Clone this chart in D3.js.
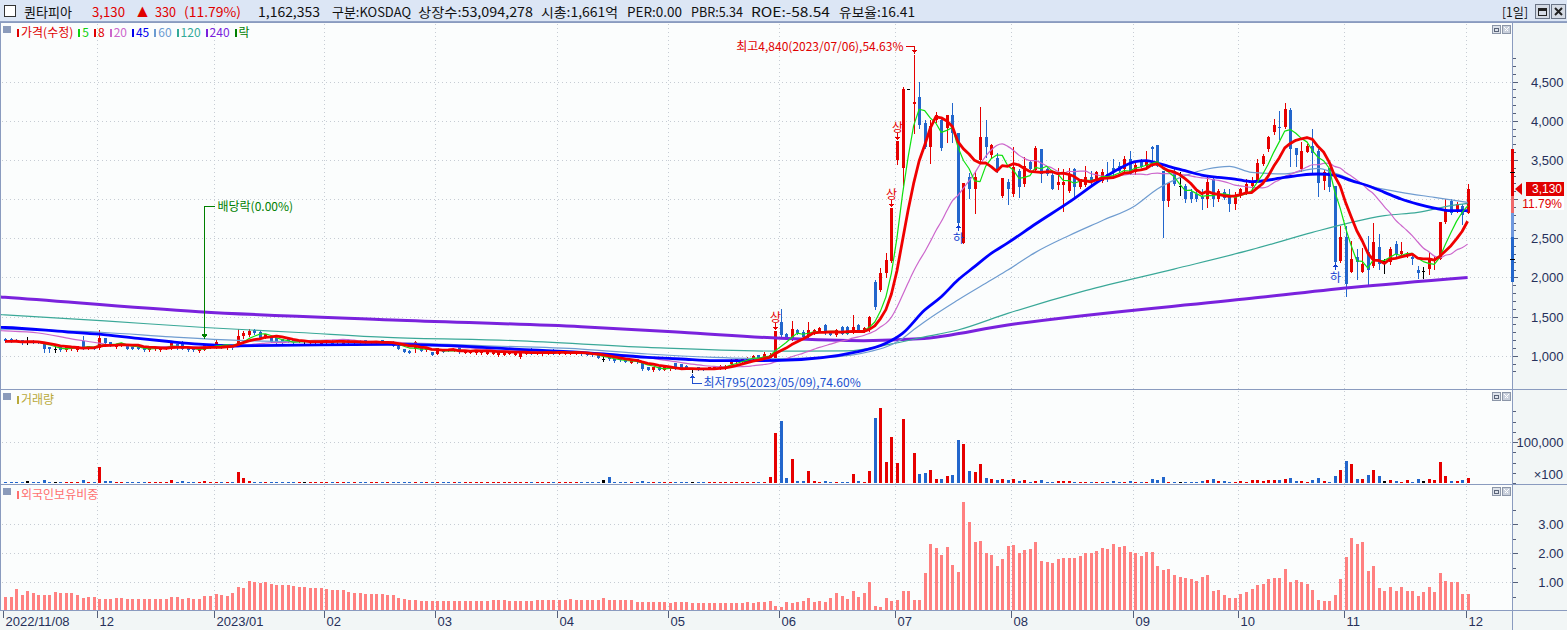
<!DOCTYPE html>
<html>
<head>
<meta charset="utf-8">
<script src="https://cdn.jsdelivr.net/npm/d3@7"></script>
<style>
  body { margin: 0; background: #fff; overflow: hidden; }
  svg text { font-family: "Noto Sans CJK KR", "Noto Sans", sans-serif; }
  .ax text { font-family: "Liberation Sans", "DejaVu Sans", sans-serif; }
</style>
</head>
<body>
<div id="chart"></div>
<script>
// ---- data ----
const firstDay = "2022-11-08";
const lastDay = "2023-12-01";
const holidays = ["2022-12-30", "2023-01-23", "2023-01-24", "2023-03-01", "2023-05-01", "2023-05-05",
  "2023-05-29", "2023-06-06", "2023-08-15", "2023-09-28", "2023-09-29", "2023-10-02", "2023-10-03", "2023-10-09"];

// daily candles [open, high, low, close]
const ohlc = [
  [1211,1220,1178,1182],[1211,1225,1180,1182],[1205,1215,1185,1190],[1199,1205,1150,1156],[1190,1233,1148,1190],
  [1190,1200,1165,1169],[1178,1185,1160,1169],[1169,1172,1042,1084],[1106,1110,1042,1084],[1084,1118,1042,1084],
  [1106,1110,1060,1063],[1063,1120,1055,1118],[1076,1122,1070,1118],[1063,1125,1060,1118],[1190,1254,1084,1106],
  [1093,1122,1088,1118],[1106,1112,1080,1084],[1093,1330,1084,1220],[1220,1225,1155,1161],[1169,1175,1120,1127],
  [1106,1152,1100,1148],[1127,1165,1120,1161],[1127,1135,1088,1093],[1106,1110,1080,1084],[1106,1112,1080,1084],
  [1106,1108,1058,1063],[1063,1110,1058,1106],[1076,1110,1070,1106],[1063,1110,1058,1106],[1093,1122,1088,1118],
  [1093,1175,1088,1169],[1148,1152,1090,1093],[1178,1182,1080,1084],[1106,1108,1060,1063],[1093,1096,1058,1063],
  [1050,1096,1045,1093],[1072,1140,1068,1135],[1106,1152,1100,1148],[1106,1211,1100,1169],[1148,1152,1100,1106],
  [1093,1140,1088,1135],[1135,1140,1088,1093],[1135,1347,1130,1254],[1245,1317,1220,1288],[1262,1347,1254,1317],
  [1330,1347,1275,1288],[1305,1310,1228,1233],[1233,1280,1228,1275],[1245,1250,1175,1178],[1220,1225,1165,1169],
  [1211,1215,1165,1169],[1211,1215,1175,1178],[1199,1205,1165,1169],[1178,1205,1175,1199],[1182,1195,1165,1182],
  [1161,1185,1155,1182],[1156,1186,1150,1182],[1148,1186,1145,1182],[1156,1186,1150,1182],[1190,1195,1150,1156],
  [1169,1205,1165,1199],[1156,1195,1150,1190],[1199,1205,1155,1161],[1156,1186,1150,1182],[1190,1195,1155,1161],
  [1199,1205,1150,1156],[1156,1186,1150,1182],[1161,1186,1155,1182],[1199,1205,1150,1156],[1161,1185,1155,1182],
  [1179,1190,1120,1128],[1128,1135,1080,1085],[1085,1090,1045,1051],[1064,1070,1038,1043],[1085,1192,1043,1171],
  [1128,1135,1060,1064],[1064,1100,1060,1094],[1043,1050,1005,1009],[1022,1100,1018,1094],[1077,1085,1045,1051],
  [1085,1090,1060,1064],[1064,1090,1060,1085],[1107,1115,1040,1043],[1043,1070,1038,1064],[1034,1070,1030,1064],
  [1030,1062,1025,1056],[1030,1062,1025,1056],[1022,1058,1018,1051],[1022,1048,1018,1043],[1000,1050,995,1043],
  [1009,1048,1005,1043],[1022,1048,1018,1043],[1013,1040,1010,1034],[979,1048,975,1043],[1030,1056,1025,1051],
  [1085,1092,1018,1022],[1022,1048,1018,1043],[1013,1048,1010,1043],[1030,1070,1025,1064],[1077,1082,1018,1022],
  [1022,1048,1018,1043],[1022,1048,1018,1043],[1022,1048,1018,1043],[1022,1048,1018,1043],[1043,1048,1010,1013],
  [1030,1034,1005,1009],[1030,1034,996,1000],[1013,1018,975,979],[958,980,930,958],[992,996,945,949],
  [958,962,924,928],[966,970,932,936],[958,962,920,924],[915,940,910,936],[958,962,910,915],
  [915,920,815,822],[851,855,812,817],[809,855,805,851],[860,865,812,817],[817,855,812,851],
  [822,855,818,851],[907,912,826,830],[894,898,826,830],[873,878,826,830],[830,840,795,830],
  [851,855,812,817],[843,848,818,822],[830,855,826,851],[830,855,826,851],[839,878,835,873],
  [830,878,826,873],[894,955,890,949],[915,962,910,958],[928,962,924,958],[936,980,932,975],
  [958,1005,955,1000],[1009,1015,955,958],[958,1050,955,1022],[958,1030,945,1012],[966,1315,960,1315],
  [1434,1592,1243,1264],[1272,1285,1220,1230],[1222,1447,1200,1336],[1328,1340,1280,1294],[1307,1328,1222,1243],
  [1264,1434,1243,1328],[1285,1340,1275,1328],[1307,1370,1300,1349],[1392,1400,1280,1285],[1307,1320,1260,1264],
  [1264,1340,1255,1328],[1370,1375,1280,1285],[1370,1380,1280,1285],[1294,1519,1285,1370],[1392,1400,1300,1307],
  [1307,1360,1300,1349],[1328,1510,1320,1498],[1945,1960,1600,1626],[1838,2115,1820,2051],[2051,2306,2009,2221],
  [2200,2881,2190,2881],[3497,3745,3450,3745],[3391,4433,3178,4399],[4399,4399,4399,4399],[4221,4840,3838,4242],
  [4306,4497,3902,3944],[3965,4008,3646,3659],[3668,4008,3455,3931],[4008,4114,3980,4072],[4008,4029,3625,3646],
  [3902,4072,3732,4072],[4072,4221,3732,3846],[3838,3846,2689,2692],[2434,3200,2434,3200],[3285,3327,3008,3136],
  [3136,3349,2817,3285],[3497,4178,3455,3795],[3795,4008,3540,3668],[3561,3700,3540,3690],[3519,3583,3349,3370],
  [3030,3264,3020,3264],[3213,3255,2940,3128],[3064,3659,3043,3404],[3362,3383,3021,3157],[3191,3532,3170,3425],
  [3468,3480,3380,3383],[3362,3672,3340,3647],[3638,3638,3213,3319],[3383,3390,3310,3319],[3306,3340,3128,3128],
  [3170,3391,3128,3213],[3170,3383,2851,3213],[3106,3391,3085,3306],[3383,3391,3000,3149],[3149,3260,3140,3255],
  [3170,3417,3170,3276],[3276,3362,3191,3213],[3234,3362,3213,3340],[3234,3383,3221,3349],[3319,3468,3234,3255],
  [3395,3511,3298,3340],[3425,3470,3350,3362],[3383,3553,3362,3511],[3511,3617,3319,3319],[3340,3468,3319,3434],
  [3502,3511,3404,3417],[3425,3617,3404,3476],[3659,3672,3425,3638],[3689,3689,3425,3425],[3362,3362,2511,2979],
  [2979,3204,2915,3204],[3362,3380,3180,3191],[3170,3340,3051,3170],[3170,3191,2957,3000],[3085,3128,2957,3000],
  [3064,3128,2979,3000],[3021,3128,2872,3000],[3000,3306,2893,3213],[3255,3298,2906,3000],[3000,3128,2979,3098],
  [3093,3128,3000,3021],[3051,3128,2851,2936],[2936,3085,2872,3043],[3043,3140,3030,3128],[3085,3255,3064,3191],
  [3170,3277,3085,3234],[3234,3511,3213,3459],[3450,3570,3440,3553],[3638,3808,3617,3787],[3851,4021,3830,3944],
  [3915,4127,3766,3902],[3915,4225,3902,4149],[4140,4157,3425,3647],[3647,3650,3425,3553],[3383,3723,3362,3617],
  [3604,3702,3596,3681],[3681,3893,3340,3596],[3617,3638,3034,3213],[3221,3383,3128,3340],[3391,3391,3106,3149],
  [3170,3170,2200,2204],[2200,2660,2191,2511],[2511,2660,1757,1915],[2072,2468,2064,2234],[2255,2362,1979,2191],
  [2072,2370,2064,2170],[2319,2532,1915,2085],[2140,2693,2128,2447],[2383,2553,2106,2170],[2213,2234,2055,2213],
  [2191,2383,2170,2362],[2425,2468,2277,2298],[2298,2447,2277,2340],[2277,2319,2255,2298],[2255,2285,2170,2234],
  [2094,2149,1987,2051],[2085,2128,1987,2085],[2106,2311,2043,2226],[2213,2277,2106,2234],[2234,2702,2230,2702],
  [2702,3000,2693,2872],[2979,3000,2808,2830],[2851,2957,2838,2936],[2915,2936,2681,2800],[2830,3191,2821,3130]
];

// volume, in units of 100 shares
const volume = [
  2500,2300,2600,2400,5700,2200,2500,8100,2400,2300, 2600,2500,2300,2700,8100,2400,2600,39800,5700,5700,
  2600,2400,2500,2300,2400,2600,2500,2300,2400,2700, 8100,2400,5700,2500,2300,2600,5700,2500,2400,2600,
  2300,2500,27600,13000,5700,2600,2400,2300,2500,2400, 2600,2300,2400,2500,2600,2400,2300,2500,2400,2600,
  2300,2400,2500,2300,2600,2400,2500,2300,2400,2600, 2500,2400,2300,2500,2600,2400,2300,2500,2400,2600,
  2300,2400,2500,2300,2600,2400,2500,2300,2400,2600, 2500,2400,2300,2500,2600,2400,2300,2500,2400,2600,
  2300,2400,2500,2300,2600,2400,2500,2300,8100,15400, 2400,2600,2300,2500,2400,5700,2400,2300,2500,2600,
  2400,2300,2500,2400,2600,2500,2300,2400,2600,2500, 2400,2300,2500,2600,2400,2300,2500,
  3200,14600,122700,152000,13000,59300,5700,5700,30000,5700,
  3200,5700,3200,3200,3200,3200,22800,5700,3200,30000,
  159300,183700,52000,113000,49600,156900,0,74000,22800,25200,
  32500,10600,10600,17900,20300,105700,96000,30000,27600,47200,
  13000,10600,8100,10600,8100,10600,5700,8100,3200,5700,
  8100,3200,3200,5700,5700,5700,3200,3200,3200,3200,
  3200,3200,3200,5700,3200,3200,5700,3200,3200,3200,
  10600,8100,15400,3200,3200,3200,3200,3200,3200,5700,
  8100,10600,5700,5700,3200,3200,5700,3200,8100,8100,
  5700,8100,8100,8100,10600,13000,5700,5700,3200,8100,
  13000,5700,3200,17900,32500,54500,47200,10600,10600,20300,
  32500,17900,5700,8100,5700,3200,8100,3200,10600,5700,
  10600,8100,52000,17900,5700,5700,8100,11624
];

// foreign ownership ratio (%)
const foreignPct = [
  0.47,0.49,0.77,0.56,0.70,0.63,0.56,0.56,0.56,0.67, 0.63,0.63,0.63,0.56,0.44,0.47,0.47,0.43,0.43,0.43,
  0.46,0.46,0.43,0.43,0.43,0.43,0.43,0.43,0.43,0.43, 0.49,0.49,0.43,0.46,0.43,0.43,0.53,0.53,0.60,0.56,
  0.53,0.63,0.84,0.80,1.05,1.01,0.98,1.01,0.94,0.91, 0.91,0.90,0.87,0.84,0.84,0.78,0.78,0.78,0.75,0.74,
  0.71,0.71,0.67,0.63,0.63,0.60,0.60,0.60,0.60,0.56, 0.56,0.46,0.43,0.39,0.39,0.36,0.33,0.33,0.33,0.33,
  0.33,0.33,0.33,0.33,0.33,0.33,0.33,0.33,0.37,0.37, 0.37,0.36,0.36,0.36,0.36,0.36,0.39,0.39,0.39,0.39,
  0.39,0.39,0.43,0.39,0.39,0.37,0.39,0.39,0.46,0.39, 0.39,0.39,0.39,0.39,0.32,0.32,0.32,0.32,0.32,0.32,
  0.29,0.32,0.32,0.30,0.29,0.29,0.29,0.29,0.29,0.29, 0.29,0.29,0.29,0.29,0.32,0.29,0.30,0.30,0.36,0.18,
  0.13,0.30,0.26,0.30,0.36,0.46,0.30,0.36,0.32,0.46, 0.63,0.53,0.43,0.70,0.49,0.63,1.01,0.18,0.13,0.46,
  0.36,0.39,0.70,0.70,0.39,0.39,1.32,2.32,2.18,1.94, 2.22,1.60,1.36,3.77,3.08,2.39,2.43,2.01,1.94,1.56,
  1.80,2.25,2.29,2.01,2.11,2.15,2.39,1.74,1.70,1.67, 1.80,1.84,1.84,1.84,1.91,2.01,2.01,2.08,2.18,2.15,
  2.32,2.22,2.25,2.05,2.01,1.91,2.05,2.05,1.56,1.43, 1.46,1.25,1.18,1.15,1.11,1.05,1.18,1.25,0.70,0.74,
  0.56,0.46,0.46,0.60,0.67,0.77,0.91,0.94,1.11,1.15, 1.15,1.46,1.01,1.08,1.01,0.94,0.74,0.39,0.36,0.36,
  0.56,1.11,1.87,2.53,2.32,2.39,1.39,1.56,0.80,0.70, 0.84,0.70,0.84,0.70,0.70,0.53,0.67,0.84,0.67,1.32,
  1.05,1.01,1.01,0.60,0.60
];

// moving averages, [day index, value]; index -1 is the left edge of the plot
const ma20Head = [[-1,1320],[0,1317],[6,1290],[12,1215],[17,1160]];
const ma45Pts = [[-1,1362],[0,1360],[11,1305],[17,1275],[24,1220],[30,1178],[35,1148],[41,1127],[53,1135],[69,1145],
  [80,1128],[92,1085],[104,1043],[116,979],[122,958],[128,936],[134,936],[140,940],[154,1051],[159,1158],
  [162,1285],[166,1583],[169,1753],[172,1966],[175,2136],[178,2306],[181,2440],[186,2681],[192,2957],
  [198,3255],[201,3383],[204,3476],[206,3489],[208,3459],[210,3417],[213,3362],[216,3306],[219,3276],
  [222,3255],[225,3221],[231,3276],[234,3306],[237,3319],[240,3306],[243,3234],[246,3170],[249,3085],
  [252,3000],[255,2936],[258,2885],[261,2851],[264,2851]];
const ma60Pts = [[-1,1341],[0,1339],[18,1296],[30,1240],[42,1195],[55,1178],[69,1171],[86,1128],[104,1085],[116,1022],
  [128,979],[134,966],[140,962],[150,985],[156,1050],[160,1140],[162,1220],[164,1330],[166,1434],[172,1711],
  [178,1966],[181,2094],[186,2319],[192,2532],[198,2723],[204,2915],[208,3128],[213,3298],[217,3383],
  [221,3417],[225,3340],[231,3320],[237,3390],[240,3330],[246,3170],[252,3085],[258,3021],[264,2957]];
const ma120Pts = [[-1,1525],[0,1521],[18,1444],[36,1360],[53,1296],[69,1233],[92,1192],[116,1107],[140,1058],[152,1062],
  [160,1150],[166,1240],[172,1328],[181,1540],[195,1830],[211,2106],[225,2353],[236,2574],[243,2702],
  [249,2787],[255,2830],[261,2915],[264,2945]];
const ma240Pts = [[-1,1750],[0,1745],[35,1562],[70,1456],[104,1370],[122,1300],[140,1222],[155,1192],[165,1215],
  [181,1392],[225,1732],[243,1870],[264,1999]];

const limitUp = ["2023-05-31", "2023-06-30", "2023-07-03"];
const limitDown = ["2023-07-18", "2023-10-30"];
const exDividend = { date: "2022-12-28", label: "배당락(0.00%)" };

const priceTicks = [1000, 1500, 2000, 2500, 3000, 3500, 4000, 4500];
const volTicks = [100000];
const foreignTicks = [1, 2, 3];
const priceBand = [3640, 3040, 2820, 2510, 1940];   // range bar on the price axis
const priceBandMarks = [3350, 2235];

const stockName = "퀀타피아";
const tradeVolume = "1,162,353";
const statItems = ["구분:KOSDAQ", "상장수:53,094,278", "시총:1,661억", "PER:0.00", "PBR:5.34", "ROE:-58.54", "유보율:16.41"];
const legendItems = [["가격(수정)", "#e00000"], ["5", "#10d010"], ["8", "#e00000"], ["20", "#cc66cc"], ["45", "#0000ee"],
  ["60", "#6b9bd1"], ["120", "#33aa99"], ["240", "#7a22dd"], ["락", "#008000"]];

// ---- helpers ----
function tradingDays(a, b, skip) {
  const out = [];
  const end = new Date(b + "T00:00:00Z");
  for (let d = new Date(a + "T00:00:00Z"); d <= end; d.setUTCDate(d.getUTCDate() + 1)) {
    const s = d.toISOString().slice(0, 10);
    if (d.getUTCDay() !== 0 && d.getUTCDay() !== 6 && !skip.includes(s)) out.push(s);
  }
  return out;
}

function movingAvg(vals, n) {
  return vals.map((v, i) => [i, d3.mean(vals.slice(Math.max(0, i - n + 1), i + 1))]);
}

const dates = tradingDays(firstDay, lastDay, holidays);
const closes = ohlc.map(d => d[3]);
const n = ohlc.length;
const last = closes[n - 1];
const prevClose = closes[n - 2];

// month tick positions
const monthTicks = [];
dates.forEach((d, i) => {
  if (i === 0) monthTicks.push({ i, label: d.replace(/-/g, "/") });
  else if (d.slice(5, 7) !== dates[i - 1].slice(5, 7)) {
    monthTicks.push({ i, label: d.slice(5, 7) === "01" ? d.slice(0, 7).replace("-", "/") : d.slice(5, 7) });
  }
});

// ---- layout ----
const W = 1567, H = 630, PR = 1512;
const P = { top: 23, bottom: 389 }, V = { top: 390, bottom: 484 }, F = { top: 485, bottom: 610 };
const UP = "#e60000", DOWN = "#2266cc", FLAT = "#000";
const candleColor = d => d[3] > d[0] ? UP : d[3] < d[0] ? DOWN : FLAT;

const x = d3.scaleLinear().domain([0, n - 1]).range([5, 1467.6]);
const yP = d3.scaleLinear().domain([1000, 4500]).range([355.7, 81.5]);
const yV = d3.scaleLinear().domain([0, 100000]).range([483, 442]);
const yF = d3.scaleLinear().domain([0, 3]).range([611, 524]);
const px = i => Math.round(x(i)) + 0.5;

const svg = d3.select("#chart").append("svg")
  .attr("width", W).attr("height", H)
  .attr("shape-rendering", "crispEdges");

// backgrounds
svg.append("rect").attr("width", W).attr("height", H).attr("fill", "#fbfdfd");
svg.append("rect").attr("x", PR).attr("y", 22).attr("width", W - PR).attr("height", H - 22).attr("fill", "#f2f6f6");
svg.append("rect").attr("x", 0).attr("y", F.bottom).attr("width", PR).attr("height", H - F.bottom).attr("fill", "#f2f6f6");

const defs = svg.append("defs");
[["clipP", P], ["clipV", V], ["clipF", F]].forEach(([id, p]) => {
  defs.append("clipPath").attr("id", id).append("rect")
    .attr("x", 1).attr("y", p.top).attr("width", PR - 1).attr("height", p.bottom - p.top);
});

// grid
const grid = svg.append("g").attr("stroke", "#c6ccd4").attr("stroke-dasharray", "1,3");
monthTicks.slice(1).forEach(t => {
  const gx = Math.round(x(t.i)) - 1.5;
  [P, V, F].forEach(p => grid.append("line").attr("x1", gx).attr("x2", gx).attr("y1", p.top + 1).attr("y2", p.bottom));
});
priceTicks.forEach(v => grid.append("line").attr("x1", 2).attr("x2", PR)
  .attr("y1", Math.round(yP(v)) + 0.5).attr("y2", Math.round(yP(v)) + 0.5));
volTicks.forEach(v => grid.append("line").attr("x1", 2).attr("x2", PR)
  .attr("y1", Math.round(yV(v)) + 0.5).attr("y2", Math.round(yV(v)) + 0.5));
foreignTicks.forEach(v => grid.append("line").attr("x1", 2).attr("x2", PR)
  .attr("y1", Math.round(yF(v)) + 0.5).attr("y2", Math.round(yF(v)) + 0.5));

// ---- price panel ----
const gP = svg.append("g").attr("clip-path", "url(#clipP)");
const candles = gP.selectAll("g.candle").data(ohlc).join("g").attr("class", "candle");
candles.append("line")
  .attr("x1", (d, i) => px(i)).attr("x2", (d, i) => px(i))
  .attr("y1", d => Math.round(yP(d[1]))).attr("y2", d => Math.round(yP(d[2])) + 1)
  .attr("stroke", candleColor);
candles.append("rect")
  .attr("x", (d, i) => Math.round(x(i)) - 1).attr("width", 3)
  .attr("y", d => Math.round(yP(Math.max(d[0], d[3]))))
  .attr("height", d => Math.max(1, Math.round(Math.abs(yP(d[0]) - yP(d[3])))))
  .attr("fill", candleColor);

// moving averages
const ma5 = movingAvg(closes, 5);
const ma8 = movingAvg(closes, 8);
const ma20 = ma20Head.concat(movingAvg(closes, 20).filter(d => d[0] >= 19));
const lineLin = d3.line().x(d => x(d[0])).y(d => yP(d[1]));
const lineSmooth = d3.line().x(d => x(d[0])).y(d => yP(d[1])).curve(d3.curveMonotoneX);
const maSpecs = [
  [ma240Pts, "#7a22dd", 3, lineSmooth],
  [ma120Pts, "#3aa898", 1.2, lineSmooth],
  [ma60Pts, "#6f9cd0", 1.2, lineSmooth],
  [ma20, "#cc66cc", 1.2, lineSmooth],
  [ma45Pts, "#0000ff", 2.8, lineSmooth],
  [ma5, "#10e010", 1.2, lineLin],
  [ma8, "#f00000", 2.8, lineLin]
];
maSpecs.forEach(([pts, color, w, gen]) => {
  gP.append("path").datum(pts).attr("d", gen)
    .attr("fill", "none").attr("stroke", color).attr("stroke-width", w)
    .attr("shape-rendering", "auto").attr("stroke-linejoin", "round");
});

// limit up / down marks
limitUp.forEach(dt => {
  const i = dates.indexOf(dt); if (i < 0) return;
  const hy = Math.round(yP(ohlc[i][1]));
  const cx = px(i);
  gP.append("line").attr("x1", cx).attr("x2", cx).attr("y1", hy - 8).attr("y2", hy - 2).attr("stroke", UP);
  gP.append("path").attr("d", `M${cx - 2.5},${hy - 4}L${cx + 2.5},${hy - 4}L${cx},${hy - 1}Z`).attr("fill", UP);
  gP.append("text").attr("x", cx).attr("y", hy - 9).attr("text-anchor", "middle")
    .attr("font-size", 12).attr("fill", UP).text("상");
});
limitDown.forEach(dt => {
  const i = dates.indexOf(dt); if (i < 0) return;
  const ly = Math.round(yP(ohlc[i][2]));
  const cx = px(i);
  gP.append("line").attr("x1", cx).attr("x2", cx).attr("y1", ly + 2).attr("y2", ly + 8).attr("stroke", "#1040d0");
  gP.append("path").attr("d", `M${cx - 2.5},${ly + 5}L${cx + 2.5},${ly + 5}L${cx},${ly + 1}Z`).attr("fill", "#1040d0");
  gP.append("text").attr("x", cx).attr("y", ly + 20).attr("text-anchor", "middle")
    .attr("font-size", 12).attr("fill", "#1040d0").text("하");
});

// ex-dividend mark
{
  const i = dates.indexOf(exDividend.date);
  const cx = px(i);
  const tip = Math.round(yP(ohlc[i][1])) - 6;
  const top = tip - 133;
  const g = gP.append("g").attr("stroke", "#008000");
  g.append("line").attr("x1", cx).attr("x2", cx).attr("y1", top).attr("y2", tip);
  g.append("line").attr("x1", cx).attr("x2", cx + 10).attr("y1", top + 0.5).attr("y2", top + 0.5);
  gP.append("path").attr("d", `M${cx - 3},${tip - 5}L${cx + 3},${tip - 5}L${cx},${tip}Z`).attr("fill", "#008000");
  gP.append("text").attr("x", cx + 13).attr("y", top + 5).attr("font-size", 12).attr("fill", "#008000").text(exDividend.label);
}

// high / low labels
const iMax = d3.maxIndex(ohlc, d => d[1]);
const iMin = d3.minIndex(ohlc, d => d[2]);
const hiVal = ohlc[iMax][1], loVal = ohlc[iMin][2];
const fmt = d3.format(",");
{
  const cx = px(iMax), hy = Math.round(yP(hiVal));
  const ty = hy - 8;
  gP.append("text").attr("x", cx - 11).attr("y", ty + 4).attr("text-anchor", "end")
    .attr("font-size", 12).attr("fill", "#e00000")
    .text(`최고${fmt(hiVal)}(${dates[iMax].replace(/-/g, "/")}),${((hiVal - last) / last * 100).toFixed(2)}%`);
  gP.append("path").attr("d", `M${cx - 9},${ty - 0.5}H${cx}V${hy - 1}`).attr("fill", "none").attr("stroke", "#e00000");
  gP.append("path").attr("d", `M${cx - 2.5},${hy - 5}L${cx + 2.5},${hy - 5}L${cx},${hy - 1}Z`).attr("fill", "#e00000");

  const lx = px(iMin), ly = Math.round(yP(loVal));
  const by = ly + 11;
  gP.append("path").attr("d", `M${lx},${ly + 2}V${by + 0.5}H${lx + 9}`).attr("fill", "none").attr("stroke", "#2050d0");
  gP.append("path").attr("d", `M${lx - 2.5},${ly + 6}L${lx + 2.5},${ly + 6}L${lx},${ly + 2}Z`).attr("fill", "#2050d0");
  gP.append("text").attr("x", lx + 11).attr("y", by + 4)
    .attr("font-size", 12).attr("fill", "#2050d0")
    .text(`최저${fmt(loVal)}(${dates[iMin].replace(/-/g, "/")}),${((last - loVal) / last * 100).toFixed(2)}%`);
}

// ---- volume panel ----
const gV = svg.append("g").attr("clip-path", "url(#clipV)");
gV.selectAll("rect").data(volume).join("rect")
  .attr("x", (d, i) => Math.round(x(i)) - 1).attr("width", 3)
  .attr("y", d => Math.round(yV(d)))
  .attr("height", d => d > 0 ? Math.max(1, Math.round(yV(0) - yV(d))) : 0)
  .attr("fill", (d, i) => candleColor(ohlc[i]));

// ---- foreign ownership panel ----
const gF = svg.append("g").attr("clip-path", "url(#clipF)");
gF.selectAll("rect").data(foreignPct).join("rect")
  .attr("x", (d, i) => Math.round(x(i)) - 1).attr("width", 3)
  .attr("y", d => Math.round(yF(d)))
  .attr("height", d => Math.round(yF(0) - yF(d)))
  .attr("fill", "#ff8080");

// ---- panel frames ----
const frame = svg.append("g").attr("stroke", "#8a9bbf");
[22.5, 389.5, 484.5, 610.5].forEach(yy => frame.append("line").attr("x1", 0).attr("x2", W).attr("y1", yy).attr("y2", yy));
frame.append("line").attr("x1", PR + 0.5).attr("x2", PR + 0.5).attr("y1", 22).attr("y2", H);
frame.append("line").attr("x1", 0.5).attr("x2", 0.5).attr("y1", 22).attr("y2", F.bottom);

// panel legends
function panelBox(y0) {
  svg.append("rect").attr("x", 3).attr("y", y0).attr("width", 8).attr("height", 7).attr("fill", "#8b9bbb");
}
function panelButtons(y0) {
  const g = svg.append("g");
  g.append("rect").attr("x", 1492.5).attr("y", y0 + 0.5).attr("width", 8).attr("height", 8).attr("fill", "#dde2ea").attr("stroke", "#8c96a8");
  g.append("rect").attr("x", 1494.5).attr("y", y0 + 3.5).attr("width", 4).attr("height", 3).attr("fill", "none").attr("stroke", "#5a6478");
  g.append("rect").attr("x", 1502.5).attr("y", y0 + 0.5).attr("width", 8).attr("height", 8).attr("fill", "#c9d0dc").attr("stroke", "#8c96a8");
  g.append("path").attr("d", `M${1504.5},${y0 + 2.5}L${1508.5},${y0 + 6.5}M${1508.5},${y0 + 2.5}L${1504.5},${y0 + 6.5}`).attr("stroke", "#fff");
}
panelBox(26); panelBox(393); panelBox(488);
panelButtons(25); panelButtons(392); panelButtons(487);

{
  let lx = 17;
  legendItems.forEach(([label, color]) => {
    svg.append("rect").attr("x", lx).attr("y", 29).attr("width", 2).attr("height", 8).attr("fill", color);
    const t = svg.append("text").attr("x", lx + 4).attr("y", 37).attr("font-size", 12).attr("fill", color).text(label);
    lx += 4 + t.node().getComputedTextLength() + 5;
  });
  svg.append("rect").attr("x", 17).attr("y", 396).attr("width", 2).attr("height", 8).attr("fill", "#b9a93a");
  svg.append("text").attr("x", 21).attr("y", 404).attr("font-size", 12).attr("fill", "#b9a93a").text("거래량");
  svg.append("rect").attr("x", 17).attr("y", 491).attr("width", 2).attr("height", 8).attr("fill", "#ff7070");
  svg.append("text").attr("x", 21).attr("y", 499).attr("font-size", 12).attr("fill", "#ff7070").text("외국인보유비중");
}

// ---- right axes ----
function rightAxis(scale, major, minor, format, labelAt, hideNear) {
  const g = svg.append("g").attr("class", "ax").attr("transform", `translate(${PR + 0.5},0)`);
  g.call(d3.axisRight(scale).tickValues(minor).tickSize(3).tickFormat(""));
  const gm = svg.append("g").attr("class", "ax").attr("transform", `translate(${PR + 0.5},0)`);
  gm.call(d3.axisRight(scale).tickValues(major).tickSize(5).tickFormat(format));
  [g, gm].forEach(a => {
    a.select(".domain").remove();
    a.selectAll("line").attr("stroke", "#55607a");
  });
  gm.selectAll("text").attr("x", labelAt).attr("text-anchor", "end").attr("dy", "0.35em")
    .attr("font-size", 13).attr("fill", "#26305a");
  // labels hidden behind the current-price tag are not drawn
  if (hideNear != null) gm.selectAll(".tick").filter(v => Math.abs(scale(v) - scale(hideNear)) < 22).select("text").remove();
}
rightAxis(yP, priceTicks, d3.range(800, 4801, 100), d3.format(","), 51, last);
rightAxis(yV, volTicks, d3.range(0, 175001, 25000), d3.format(","), 51, null);
rightAxis(yF, foreignTicks, d3.range(0.5, 3.6, 0.5), d3.format(".2f"), 51, null);
svg.append("text").attr("class", "ax").attr("x", 1563).attr("y", 479).attr("text-anchor", "end")
  .attr("font-size", 13).attr("fill", "#26305a").style("font-family", "Liberation Sans").text("×100");

// range bar on price axis
{
  const cols = ["#e00000", "#f06a6a", "#6f98de", "#2266cc"];
  for (let k = 0; k < priceBand.length - 1; k++) {
    svg.append("rect").attr("x", 1511).attr("width", 3)
      .attr("y", Math.round(yP(priceBand[k]))).attr("height", Math.round(yP(priceBand[k + 1]) - yP(priceBand[k])))
      .attr("fill", cols[k]);
  }
  priceBandMarks.forEach(v => svg.append("rect").attr("x", 1510).attr("width", 5)
    .attr("y", Math.round(yP(v))).attr("height", 1).attr("fill", "#000"));
}

// current price tag
{
  const cy = Math.round(yP(last));
  svg.append("path").attr("d", `M1515,${cy}L1522,${cy - 6}L1522,${cy + 6}Z`).attr("fill", "#e00000").attr("shape-rendering", "auto");
  svg.append("rect").attr("x", 1526).attr("y", cy - 7).attr("width", 38).attr("height", 14).attr("fill", "#e00000");
  svg.append("text").attr("x", 1562).attr("y", cy + 4).attr("text-anchor", "end").attr("font-size", 12)
    .attr("fill", "#fff").style("font-family", "Liberation Sans").text(fmt(last));
  svg.append("rect").attr("x", 1526).attr("y", cy + 7).attr("width", 38).attr("height", 14).attr("fill", "#fff");
  svg.append("text").attr("x", 1562).attr("y", cy + 19).attr("text-anchor", "end").attr("font-size", 12)
    .attr("fill", "#e00000").style("font-family", "Liberation Sans").text(((last - prevClose) / prevClose * 100).toFixed(2) + "%");
}

// ---- x axis ----
{
  const g = svg.append("g").attr("class", "ax");
  monthTicks.forEach(t => {
    const tx = Math.round(x(t.i)) - 1.5;
    g.append("line").attr("x1", tx).attr("x2", tx).attr("y1", F.bottom + 1).attr("y2", F.bottom + 8).attr("stroke", "#55607a");
    g.append("text").attr("x", tx + 2).attr("y", 626).attr("font-size", 13).attr("fill", "#26305a").text(t.label);
  });
}

// ---- header ----
{
  svg.append("rect").attr("width", W).attr("height", 22).attr("fill", "#dce6f5");
  svg.append("line").attr("x1", 0).attr("x2", W).attr("y1", 21.5).attr("y2", 21.5).attr("stroke", "#93a4c6");
  svg.append("rect").attr("x", 4.5).attr("y", 5.5).attr("width", 11).attr("height", 11).attr("fill", "#fff").attr("stroke", "#333");
  const chg = last - prevClose;
  const pieces = [
    [stockName, 24, 48, "#111"],
    [fmt(last), 92, 33, "#e00000"],
    [chg > 0 ? "▲" : "▼", 137, 11, "#e00000"],
    [fmt(Math.abs(chg)), 155, 21, "#e00000"],
    [`(${(chg / prevClose * 100).toFixed(2)}%)`, 184, 57, "#e00000"],
    [tradeVolume, 258, 62, "#111"]
  ];
  const statX = [[332, 79], [418, 115], [541, 77], [627, 55], [691, 52], [751, 79], [839, 76]];
  statItems.forEach((s, k) => pieces.push([s, statX[k][0], statX[k][1], "#111"]));
  pieces.forEach(([t, px0, w, c]) => {
    svg.append("text").attr("x", px0).attr("y", 17).attr("font-size", 13).attr("fill", c)
      .attr("textLength", w).attr("lengthAdjust", "spacingAndGlyphs").text(t);
  });
  svg.append("text").attr("x", 1502).attr("y", 17).attr("font-size", 13).attr("fill", "#111")
    .attr("textLength", 26).attr("lengthAdjust", "spacingAndGlyphs").text("[1일]");
  // window buttons
  svg.append("rect").attr("x", 1535.5).attr("y", 4.5).attr("width", 14).attr("height", 14).attr("fill", "#d5dbe5").attr("stroke", "#6a7486");
  svg.append("rect").attr("x", 1538.5).attr("y", 8.5).attr("width", 8).attr("height", 7).attr("fill", "none").attr("stroke", "#222");
  svg.append("rect").attr("x", 1538.5).attr("y", 8.5).attr("width", 8).attr("height", 2).attr("fill", "#222");
  svg.append("rect").attr("x", 1551.5).attr("y", 4.5).attr("width", 14).attr("height", 14).attr("fill", "#d5dbe5").attr("stroke", "#6a7486");
  svg.append("path").attr("d", "M1555,8L1562,15M1562,8L1555,15").attr("stroke", "#222").attr("stroke-width", 2).attr("shape-rendering", "auto");
}
</script>
</body>
</html>
